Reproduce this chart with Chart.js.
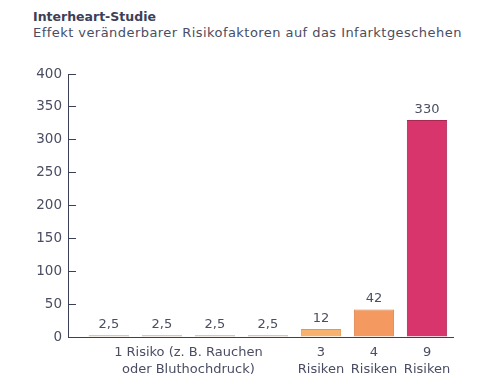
<!DOCTYPE html>
<html>
<head>
<meta charset="utf-8">
<script src="https://cdn.jsdelivr.net/npm/chart.js@4.4.1/dist/chart.umd.min.js"></script>
<style>
  html, body { margin: 0; padding: 0; background: #fff; }
  body { width: 496px; height: 383px; position: relative; overflow: hidden; font-family: "DejaVu Sans", sans-serif; color: #4a4d63; }
  .title { position: absolute; left: 33px; top: 9px; font-size: 12.5px; font-weight: bold; color: #3c4057; }
  .sub { position: absolute; left: 33px; top: 25px; font-size: 13px; letter-spacing: 0.45px; color: #4a4d63; }
  canvas { position: absolute; left: 0; top: 0; }
</style>
</head>
<body>
<div class="title">Interheart-Studie</div>
<div class="sub">Effekt veränderbarer Risikofaktoren auf das Infarktgeschehen</div>
<canvas id="chart" width="496" height="383"></canvas>
<script>
  "use strict";

  // bar positions along the x axis and their values (relative infarct risk)
  const POSITIONS = [0, 1, 2, 3, 4, 5, 6];
  const VALUES = [2.5, 2.5, 2.5, 2.5, 12, 42, 330];
  const COLORS = ["#cdbba2", "#cdbba2", "#cdbba2", "#cdbba2", "#f7b270", "#f49a60", "#d9356d"];
  const BORDERS = ["#b39e84", "#b39e84", "#b39e84", "#b39e84", "#e89452", "#e07e48", "#a8284f"];

  // group labels on the x axis (position -> lines)
  const X_TICK_POS = [1.5, 4, 5, 6];
  const X_TICK_LABELS = [
    ["1 Risiko (z. B. Rauchen", "oder Bluthochdruck)"],
    ["3", "Risiken"],
    ["4", "Risiken"],
    ["9", "Risiken"],
  ];
  const Y_MAX = 400, Y_STEP = 50;

  const INK = "#4a4d63", AXIS = "#3c4057";
  const FONT = { family: "DejaVu Sans, sans-serif", size: 13 };
  const fmt = (n) => n.toLocaleString("de-DE");

  const valueLabels = {
    id: "valueLabels",
    afterDatasetsDraw(chart) {
      const ctx = chart.ctx;
      const meta = chart.getDatasetMeta(0);
      ctx.save();
      ctx.fillStyle = INK;
      ctx.font = `${FONT.size}px ${FONT.family}`;
      ctx.textAlign = "center";
      ctx.textBaseline = "alphabetic";
      meta.data.forEach((bar, i) => ctx.fillText(fmt(VALUES[i]), bar.x, bar.y - 7));
      ctx.restore();
    },
  };

  new Chart(document.getElementById("chart").getContext("2d"), {
    type: "bar",
    data: {
      datasets: [{
        data: POSITIONS.map((x, i) => ({ x, y: VALUES[i] })),
        backgroundColor: COLORS,
        borderColor: BORDERS,
        borderWidth: 1,
        categoryPercentage: 1,
        barPercentage: 0.76,
      }],
    },
    options: {
      responsive: false, animation: false,
      layout: { padding: { top: 74, left: 30, right: 43, bottom: 0 } },
      plugins: { legend: { display: false }, tooltip: { enabled: false } },
      scales: {
        x: {
          type: "linear", min: -0.77, max: 6.49, offset: false,
          grid: { display: false, drawTicks: false },
          border: { display: true, color: AXIS, width: 1 },
          afterBuildTicks: (s) => { s.ticks = X_TICK_POS.map((value) => ({ value })); },
          afterFit: (s) => { s.height = 46; s.paddingLeft = 0; s.paddingRight = 0; },
          ticks: {
            autoSkip: false, maxRotation: 0, padding: 7, color: INK,
            font: { ...FONT, lineHeight: 1.3 },
            callback: (v) => X_TICK_LABELS[X_TICK_POS.indexOf(v)] || "",
          },
        },
        y: {
          min: 0, max: Y_MAX,
          grid: { drawOnChartArea: false, drawTicks: true, tickLength: -8, color: AXIS },
          border: { display: true, color: AXIS, width: 1 },
          afterFit: (s) => { s.width = 38; },
          ticks: { stepSize: Y_STEP, padding: 14, color: INK, font: { ...FONT, size: 13.5 } },
        },
      },
    },
    plugins: [valueLabels],
  });
</script>
</body>
</html>
